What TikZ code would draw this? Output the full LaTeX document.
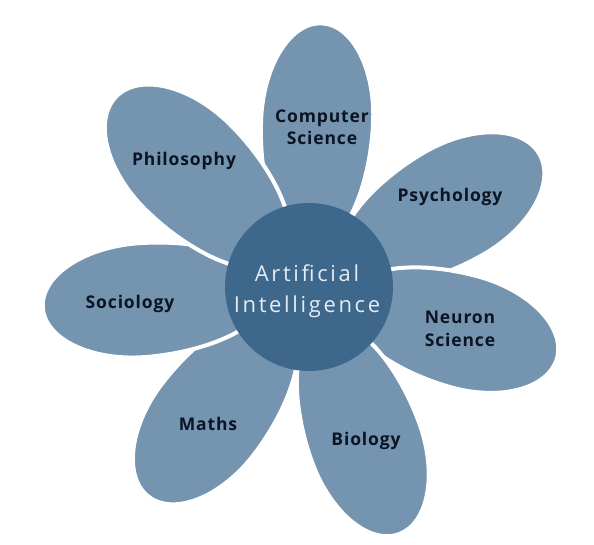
\documentclass[tikz,border=0pt]{standalone}
\usepackage{fontspec}
\newfontfamily\petalfont{Open Sans}[LetterSpace=5]
\newfontfamily\centerfont{Open Sans}[LetterSpace=12]
\definecolor{petalblue}{RGB}{116,148,176}
\definecolor{coreblue}{RGB}{61,104,140}
\definecolor{labelink}{RGB}{12,20,36}
\definecolor{corefont}{RGB}{228,235,243}
\tikzset{
  petalshape/.style={fill=petalblue, draw=white, line width=4pt},
  petallabel/.style={font=\petalfont\bfseries\fontsize{17.5}{22.5}\selectfont, text=labelink, align=center, inner sep=0pt},
  core/.style={circle, fill=coreblue, minimum size=168pt, inner sep=0pt},
  corelabel/.style={font=\centerfont\fontsize{22}{31}\selectfont, text=corefont, align=center, inner sep=0pt}
}
\newcommand\drawpetal[3]{%
  \begin{scope}[shift={(309,-287)}, rotate=#1]
    \path[petalshape] (40,0) .. controls (40,{0.62*#3}) and ({0.63*#2-62},#3) .. ({0.63*#2},#3)
      .. controls ({0.63*#2+0.552*0.37*#2},#3) and (#2,{0.552*#3}) .. (#2,0)
      .. controls (#2,{-0.552*#3}) and ({0.63*#2+0.552*0.37*#2},{-#3}) .. ({0.63*#2},{-#3})
      .. controls ({0.63*#2-62},{-#3}) and (40,{-0.62*#3}) .. cycle;
  \end{scope}}
\begin{document}
\begin{tikzpicture}[x=1pt,y=1pt]
\useasboundingbox (0,0) rectangle (594,-544);
\drawpetal{87.2}{264}{56}
\drawpetal{30}{266}{59}
\drawpetal{-16.1}{258}{57}
\drawpetal{-70}{263}{57}
\drawpetal{-127.4}{264}{58}
\drawpetal{184.5}{267}{57}
\drawpetal{135.3}{271}{60}
\node[core] (ai) at (309,-287) {};
\node[corelabel] (ailabel) at (307,-291) {Artificial\\Intelligence};
\node[petallabel] (cs) at (322,-127) {Computer\\Science};
\node[petallabel] (psy) at (450,-197) {Psychology};
\node[petallabel] (neu) at (460,-329) {Neuron\\Science};
\node[petallabel] (bio) at (366,-441) {Biology};
\node[petallabel] (mat) at (208,-424) {Maths};
\node[petallabel] (soc) at (130,-304) {Sociology};
\node[petallabel] (phi) at (184,-161) {Philosophy};
\end{tikzpicture}
\end{document}
